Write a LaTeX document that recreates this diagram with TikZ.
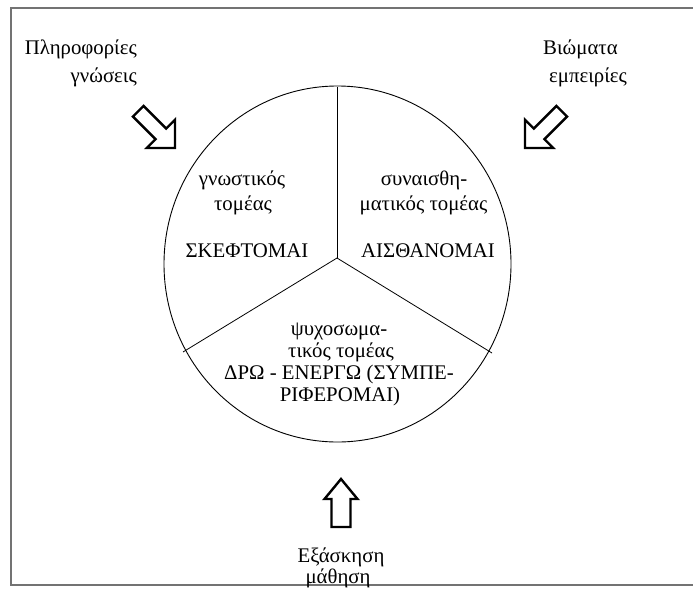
\documentclass[tikz,border=0pt]{standalone}
\usepackage{fontspec}
\setmainfont{Liberation Serif}
\begin{document}
\begin{tikzpicture}[x=1pt,y=-1pt,
  frameline/.style={draw=black!55,line width=1.5pt},
  ring/.style={draw=black,line width=0.9pt},
  divider/.style={draw=black,line width=0.8pt},
  blockarrow/.style={draw=black,fill=white,line width=2.4pt,line join=miter},
  lbl/.style={inner sep=0pt,font=\fontsize{20.8}{25}\selectfont}]
\useasboundingbox (0,0) rectangle (693,594);
\coordinate (f1) at (693,8);
\coordinate (f2) at (11,8);
\coordinate (f3) at (11,585);
\coordinate (f4) at (693,585);
\draw[frameline] (f1) -- (f2) -- (f3) -- (f4);
% circle
\coordinate (c) at (337.5,264);
\draw[ring] (c) ellipse [x radius=173.5, y radius=178];
\coordinate (J) at (337,258);
\coordinate (T) at (337,87);
\coordinate (L) at (183,352);
\coordinate (R) at (492,353);
\draw[divider] (T) -- (J);
\draw[divider] (J) -- (L);
\draw[divider] (J) -- (R);
% block arrows
\begin{scope}[shift={(175,148)},rotate=-45]
\draw[blockarrow] (0,0) -- (-20,20) -- (-20,7.5) -- (-52,7.5) -- (-52,-7.5) -- (-20,-7.5) -- (-20,-20) -- cycle;
\end{scope}
\begin{scope}[shift={(525,148)},rotate=-135]
\draw[blockarrow] (0,0) -- (-20,20) -- (-20,7.5) -- (-52,7.5) -- (-52,-7.5) -- (-20,-7.5) -- (-20,-20) -- cycle;
\end{scope}
\begin{scope}[shift={(341,479)},rotate=90]
\draw[blockarrow] (0,0) -- (-20,16.5) -- (-20,9.5) -- (-48,9.5) -- (-48,-9.5) -- (-20,-9.5) -- (-20,-16.5) -- cycle;
\end{scope}
% outer labels
\node[lbl,anchor=base east] (p1) at (137,55) {Πληροφορίες};
\node[lbl,anchor=base east] (p2) at (137,82) {γνώσεις};
\node[lbl,anchor=base west] (b1) at (543,55) {Βιώματα};
\node[lbl,anchor=base west] (b2) at (549,82) {εμπειρίες};
\node[lbl,anchor=base] (e1) at (341,562) {Εξάσκηση};
\node[lbl,anchor=base] (e2) at (338,583) {μάθηση};
% sector labels
\node[lbl,anchor=base] (g1) at (242,185) {γνωστικός};
\node[lbl,anchor=base] (g2) at (243,210) {τομέας};
\node[lbl,anchor=base] (g3) at (247,257) {ΣΚΕΦΤΟΜΑΙ};
\node[lbl,anchor=base] (s1) at (424,185) {συναισθη-};
\node[lbl,anchor=base] (s2) at (423.5,210) {ματικός τομέας};
\node[lbl,anchor=base] (s3) at (428,257) {ΑΙΣΘΑΝΟΜΑΙ};
\node[lbl,anchor=base] (k1) at (339,335) {ψυχοσωμα-};
\node[lbl,anchor=base] (k2) at (341,357) {τικός τομέας};
\node[lbl,anchor=base] (k3) at (339,379) {ΔΡΩ - ΕΝΕΡΓΩ (ΣΥΜΠΕ-};
\node[lbl,anchor=base] (k4) at (340,401) {ΡΙΦΕΡΟΜΑΙ)};
\end{tikzpicture}
\end{document}
